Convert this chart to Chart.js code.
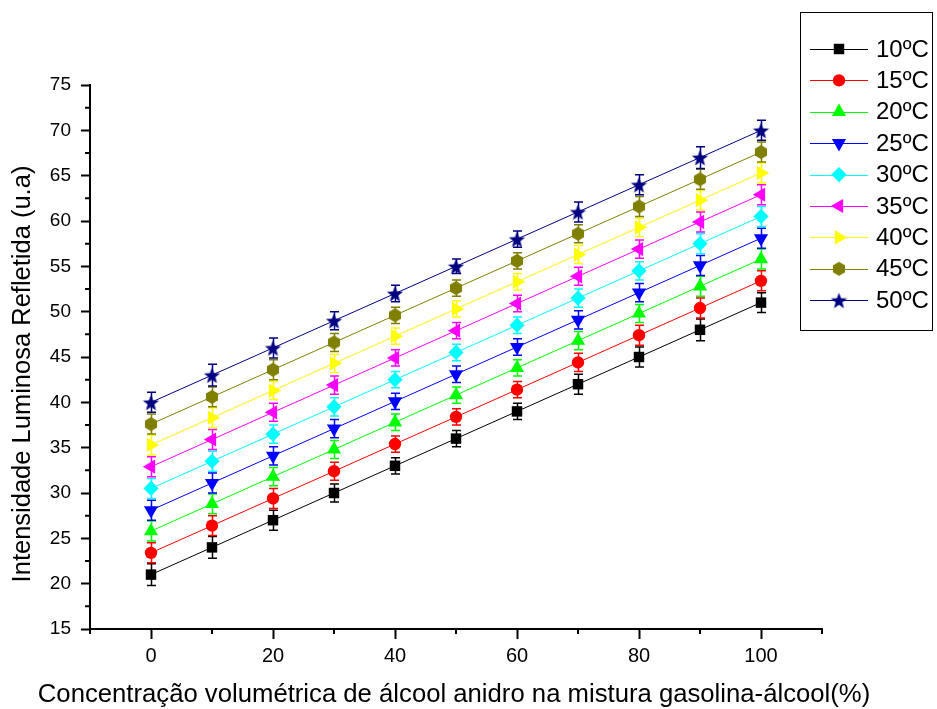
<!DOCTYPE html>
<html>
<head>
<meta charset="utf-8">
<script src="https://cdn.jsdelivr.net/npm/chart.js@4/dist/chart.umd.min.js"></script>
<style>
  html, body { margin: 0; padding: 0; background: #fff; }
</style>
</head>
<body>
<canvas id="chart" width="937" height="709"></canvas>
<script>
// === DATA ===
var concentracao = [0, 10, 20, 30, 40, 50, 60, 70, 80, 90, 100];
var temperaturas = ['10ºC', '15ºC', '20ºC', '25ºC', '30ºC', '35ºC', '40ºC', '45ºC', '50ºC'];

var serie10 = [21, 24, 27, 30, 33, 36, 39, 42, 45, 48, 51];
var serie15 = [23.4, 26.4, 29.4, 32.4, 35.4, 38.4, 41.4, 44.4, 47.4, 50.4, 53.4];
var serie20 = [25.8, 28.8, 31.8, 34.8, 37.8, 40.8, 43.8, 46.8, 49.8, 52.8, 55.8];
var serie25 = [28.1, 31.1, 34.1, 37.1, 40.1, 43.1, 46.1, 49.1, 52.1, 55.1, 58.1];
var serie30 = [30.5, 33.5, 36.5, 39.5, 42.5, 45.5, 48.5, 51.5, 54.5, 57.5, 60.5];
var serie35 = [32.9, 35.9, 38.9, 41.9, 44.9, 47.9, 50.9, 53.9, 56.9, 59.9, 62.9];
var serie40 = [35.3, 38.3, 41.3, 44.3, 47.3, 50.3, 53.3, 56.3, 59.3, 62.3, 65.3];
var serie45 = [37.6, 40.6, 43.6, 46.6, 49.6, 52.6, 55.6, 58.6, 61.6, 64.6, 67.6];
var serie50 = [40, 43, 46, 49, 52, 55, 58, 61, 64, 67, 70];

// error bars (+/-)
var erro10 = [1.2, 1.2, 1.1, 1.0, 0.9, 0.9, 0.9, 1.1, 1.1, 1.2, 1.1];
var erro15 = [1.1, 1.1, 1.1, 1.0, 0.9, 0.9, 0.9, 1.0, 1.1, 1.1, 1.1];
var erro20 = [1.1, 1.1, 1.0, 1.0, 0.9, 0.9, 0.9, 1.0, 1.0, 1.1, 1.1];
var erro25 = [1.1, 1.1, 1.0, 1.0, 0.9, 0.9, 0.9, 1.0, 1.0, 1.1, 1.1];
var erro30 = [1.1, 1.1, 1.0, 1.0, 0.9, 0.9, 0.9, 1.0, 1.0, 1.1, 1.1];
var erro35 = [1.1, 1.1, 1.0, 1.0, 0.9, 0.9, 0.9, 1.0, 1.0, 1.1, 1.1];
var erro40 = [1.1, 1.1, 1.0, 1.0, 0.9, 0.9, 0.9, 1.0, 1.0, 1.1, 1.1];
var erro45 = [1.1, 1.1, 1.1, 1.0, 0.9, 0.9, 0.9, 1.0, 1.1, 1.1, 1.1];
var erro50 = [1.1, 1.2, 1.1, 1.0, 0.9, 0.8, 0.9, 1.1, 1.1, 1.2, 1.1];

var xTicks = [0, 20, 40, 60, 80, 100];
var xMinorTicks = [-10, 10, 30, 50, 70, 90, 110];
var yTicks = [15, 20, 25, 30, 35, 40, 45, 50, 55, 60, 65, 70, 75];
var yMinorTicks = [17.5, 22.5, 27.5, 32.5, 37.5, 42.5, 47.5, 52.5, 57.5, 62.5, 67.5, 72.5];

var xTitle = 'Concentração volumétrica de álcool anidro na mistura gasolina-álcool(%)';
var yTitle = 'Intensidade Luminosa Refletida (u.a)';

var FONT = "'Liberation Sans', Arial, Helvetica, sans-serif";

// === CUSTOM MARKERS (hexagon, filled star) ===
function makeHexagon(color, r) {
  var c = document.createElement('canvas');
  c.width = c.height = Math.ceil(r * 2 + 2);
  var g = c.getContext('2d'), m = c.width / 2;
  g.fillStyle = color;
  g.beginPath();
  for (var i = 0; i < 6; i++) {
    var a = -Math.PI / 2 + i * Math.PI / 3;
    var px = m + r * Math.cos(a), py = m + r * Math.sin(a);
    if (i === 0) g.moveTo(px, py); else g.lineTo(px, py);
  }
  g.closePath();
  g.fill();
  return c;
}

function makeStar(color, r) {
  var c = document.createElement('canvas');
  c.width = c.height = Math.ceil(r * 2 + 2);
  var g = c.getContext('2d'), m = c.width / 2;
  g.fillStyle = color;
  g.beginPath();
  for (var i = 0; i < 10; i++) {
    var rad = i % 2 === 0 ? r : r * 0.42;
    var a = -Math.PI / 2 + i * Math.PI / 5;
    var px = m + rad * Math.cos(a), py = m + 1 + rad * Math.sin(a);
    if (i === 0) g.moveTo(px, py); else g.lineTo(px, py);
  }
  g.closePath();
  g.fill();
  return c;
}

var series = [serie10, serie15, serie20, serie25, serie30, serie35, serie40, serie45, serie50];
var erros = [erro10, erro15, erro20, erro25, erro30, erro35, erro40, erro45, erro50];
var cores = ['#000000', '#ff0000', '#00ff00', '#0000ff', '#00ffff', '#ff00ff', '#ffff00', '#808000', '#000080'];
var estilos = ['rect', 'circle', 'triangle', 'triangle', 'rectRot', 'triangle', 'triangle', makeHexagon('#808000', 7), makeStar('#000080', 8.5)];
var rotacoes = [0, 0, 0, 180, 0, -90, 90, 0, 0];
var raios = [7.4, 6.2, 8.2, 8.2, 7.6, 8.2, 8.2, 7, 8.5];

var datasets = [];
for (var i = 0; i < series.length; i++) {
  datasets.push({
    label: temperaturas[i],
    data: concentracao.map(function(x, j) { return { x: x, y: series[i][j] }; }),
    errors: erros[i],
    borderColor: cores[i],
    backgroundColor: cores[i],
    borderWidth: 1,
    pointStyle: estilos[i],
    pointRotation: rotacoes[i],
    pointRadius: raios[i],
    pointBorderWidth: 0,
    tension: 0,
    fill: false
  });
}

// === PLUGINS ===
var errorBarsPlugin = {
  id: 'errorBars',
  beforeDatasetsDraw: function(chart) {
    var ctx = chart.ctx, xs = chart.scales.x, ys = chart.scales.y;
    chart.data.datasets.forEach(function(ds) {
      ctx.save();
      ctx.strokeStyle = ds.borderColor;
      ctx.lineWidth = 1.5;
      for (var j = 0; j < ds.data.length; j++) {
        var px = Math.round(xs.getPixelForValue(ds.data[j].x)) + 0.5;
        var top = ys.getPixelForValue(ds.data[j].y + ds.errors[j]);
        var bot = ys.getPixelForValue(ds.data[j].y - ds.errors[j]);
        ctx.beginPath();
        ctx.moveTo(px, top); ctx.lineTo(px, bot);
        ctx.moveTo(px - 4.5, top); ctx.lineTo(px + 4.5, top);
        ctx.moveTo(px - 4.5, bot); ctx.lineTo(px + 4.5, bot);
        ctx.stroke();
      }
      ctx.restore();
    });
  }
};

var decorPlugin = {
  id: 'decor',
  afterDraw: function(chart) {
    var ctx = chart.ctx, xs = chart.scales.x, ys = chart.scales.y, area = chart.chartArea;
    ctx.save();

    // minor ticks
    ctx.strokeStyle = '#000';
    ctx.lineWidth = 2;
    ctx.beginPath();
    xMinorTicks.forEach(function(v) {
      var px = xs.getPixelForValue(v);
      ctx.moveTo(px, area.bottom); ctx.lineTo(px, area.bottom + 5);
    });
    yMinorTicks.forEach(function(v) {
      var py = ys.getPixelForValue(v);
      ctx.moveTo(area.left - 5, py); ctx.lineTo(area.left, py);
    });
    ctx.stroke();

    // axis titles
    ctx.fillStyle = '#000';
    ctx.textBaseline = 'alphabetic';
    ctx.textAlign = 'center';
    ctx.font = '25.7px ' + FONT;
    ctx.fillText(xTitle, 454, 702);

    ctx.save();
    ctx.translate(30, 374);
    ctx.rotate(-Math.PI / 2);
    ctx.font = '25.5px ' + FONT;
    ctx.fillText(yTitle, 0, 0);
    ctx.restore();

    // legend box
    ctx.fillStyle = '#fff';
    ctx.fillRect(800, 12, 132, 318);
    ctx.strokeStyle = '#000';
    ctx.lineWidth = 1;
    ctx.strokeRect(800.5, 12.5, 132, 318);

    chart.data.datasets.forEach(function(ds, i) {
      var cy = 49 + i * 31.4;
      ctx.strokeStyle = ds.borderColor;
      ctx.lineWidth = 1;
      ctx.beginPath();
      ctx.moveTo(810, Math.round(cy) + 0.5); ctx.lineTo(868, Math.round(cy) + 0.5);
      ctx.stroke();
      ctx.fillStyle = ds.backgroundColor;
      Chart.helpers.drawPoint(ctx, {
        pointStyle: ds.pointStyle, rotation: ds.pointRotation, radius: ds.pointRadius, borderWidth: 0
      }, 839, cy);
      ctx.fillStyle = '#000';
      ctx.font = '24px ' + FONT;
      ctx.textAlign = 'left';
      ctx.textBaseline = 'middle';
      ctx.fillText(ds.label, 876, cy + 1);
    });

    ctx.restore();
  }
};

// === CHART ===
new Chart(document.getElementById('chart'), {
  type: 'line',
  data: { datasets: datasets },
  plugins: [errorBarsPlugin, decorPlugin],
  options: {
    responsive: false,
    animation: false,
    layout: { padding: { top: 85, right: 115, left: 0, bottom: 0 } },
    plugins: { legend: { display: false }, tooltip: { enabled: false } },
    scales: {
      x: {
        type: 'linear', min: -10, max: 110,
        afterBuildTicks: function(s) { s.ticks = xTicks.map(function(v) { return { value: v }; }); },
        afterFit: function(s) { s.height = 80; },
        border: { color: '#000', width: 2 },
        grid: { drawOnChartArea: false, tickLength: 10, tickColor: '#000', tickWidth: 2 },
        ticks: { color: '#000', font: { family: FONT, size: 20 }, padding: 5, maxRotation: 0 }
      },
      y: {
        type: 'linear', min: 15, max: 75,
        afterBuildTicks: function(s) { s.ticks = yTicks.map(function(v) { return { value: v }; }); },
        afterFit: function(s) { s.width = 90; },
        border: { color: '#000', width: 2 },
        grid: { drawOnChartArea: false, tickLength: 9, tickColor: '#000', tickWidth: 2 },
        ticks: { color: '#000', font: { family: FONT, size: 19 }, padding: 10 }
      }
    }
  }
});
</script>
</body>
</html>
